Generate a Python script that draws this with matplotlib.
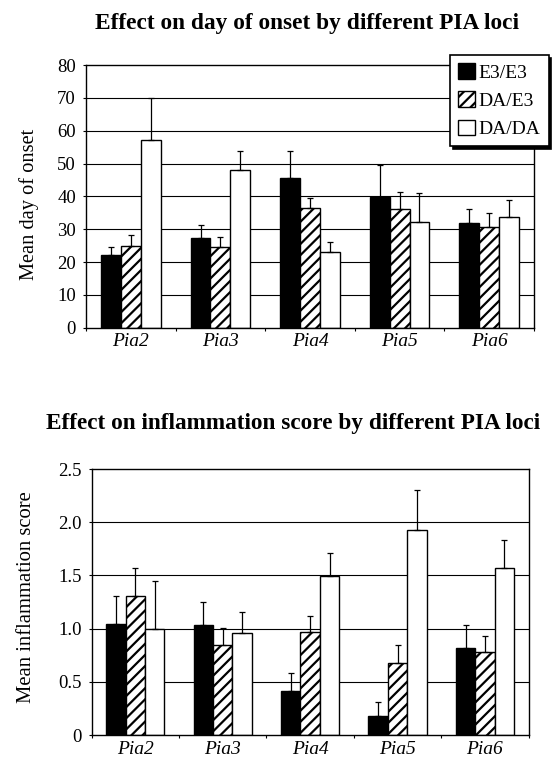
import numpy as np
import matplotlib
matplotlib.use("Agg")
import matplotlib.pyplot as plt
from matplotlib.ticker import FixedLocator

plt.rcParams['font.family'] = ['Liberation Serif', 'DejaVu Serif']
plt.rcParams['hatch.linewidth'] = 1.6
plt.rcParams['hatch.color'] = 'black'

# ---------------- data ----------------
loci = ['Pia2', 'Pia3', 'Pia4', 'Pia5', 'Pia6']
genotypes = ['E3/E3', 'DA/E3', 'DA/DA']

onset_e3e3 = [22.0, 27.3, 45.6, 39.8, 31.8]
onset_dae3 = [25.0, 24.6, 36.3, 36.2, 30.8]
onset_dada = [57.2, 47.9, 23.1, 32.2, 33.6]
onset_err_e3e3 = [2.6, 3.9, 8.3, 9.7, 4.4]
onset_err_dae3 = [3.2, 3.1, 3.1, 5.0, 4.2]
onset_err_dada = [12.8, 5.9, 2.9, 8.8, 5.4]
onset_yticks = [0, 10, 20, 30, 40, 50, 60, 70, 80]
onset_yticklabels = ['0', '10', '20', '30', '40', '50', '60', '70', '80']

infl_e3e3 = [1.045, 1.03, 0.41, 0.18, 0.82]
infl_dae3 = [1.31, 0.845, 0.97, 0.68, 0.78]
infl_dada = [1.0, 0.96, 1.49, 1.93, 1.57]
infl_err_e3e3 = [0.265, 0.22, 0.17, 0.13, 0.21]
infl_err_dae3 = [0.26, 0.165, 0.15, 0.165, 0.15]
infl_err_dada = [0.45, 0.20, 0.22, 0.37, 0.26]
infl_yticks = [0, 0.5, 1.0, 1.5, 2.0, 2.5]
infl_yticklabels = ['0', '0.5', '1.0', '1.5', '2.0', '2.5']

title_top = 'Effect on day of onset by different PIA loci'
title_bottom = 'Effect on inflammation score by different PIA loci'
ylabel_top = 'Mean day of onset'
ylabel_bottom = 'Mean inflammation score'

# ---------------- figure ----------------
W, H = 560, 767
fig = plt.figure(figsize=(W / 100, H / 100), dpi=100)

def px_rect(l, t, r, b):
    return [l / W, 1 - b / H, (r - l) / W, (b - t) / H]

ax1 = fig.add_axes(px_rect(86, 65, 534, 327.7))
ax2 = fig.add_axes(px_rect(91.7, 469, 528.6, 735))

styles = [dict(facecolor='black', edgecolor='black', hatch=None),
          dict(facecolor='white', edgecolor='black', hatch='///'),
          dict(facecolor='white', edgecolor='black', hatch=None)]

bw = 0.222

def draw(ax, series, errs, yticks, yticklabels, ymax, gridvals, xpad):
    x = np.arange(len(loci))
    handles = []
    for i, (vals, err, st) in enumerate(zip(series, errs, styles)):
        xs = x + (i - 1) * bw
        b = ax.bar(xs, vals, width=bw, linewidth=1.0, zorder=3,
                   label=genotypes[i], **st)
        handles.append(b)
        ax.errorbar(xs, vals, yerr=[np.zeros(len(vals)), err], fmt='none',
                    ecolor='black', elinewidth=0.9, capsize=2, capthick=0.9,
                    zorder=4)
    for g in gridvals:
        ax.axhline(g, color='black', linewidth=0.8, zorder=1)
    ax.set_xlim(-0.5, len(loci) - 0.5)
    ax.set_ylim(0, ymax)
    ax.set_xticks(x)
    ax.set_xticklabels(loci, fontsize=14, fontstyle='italic')
    ax.xaxis.set_minor_locator(FixedLocator(np.arange(-0.5, len(loci), 1.0)))
    ax.tick_params(axis='x', which='major', length=0, pad=xpad)
    ax.tick_params(axis='x', which='minor', length=2.5, width=0.8, direction='out')
    ax.set_yticks(yticks)
    ax.set_yticklabels(yticklabels, fontsize=13.5)
    ax.tick_params(axis='y', length=2.2, width=0.8, pad=5)
    for s in ax.spines.values():
        s.set_linewidth(1.0)
        s.set_color('black')
        s.set_zorder(5)
    return handles

h = draw(ax1, [onset_e3e3, onset_dae3, onset_dada],
         [onset_err_e3e3, onset_err_dae3, onset_err_dada],
         onset_yticks, onset_yticklabels, 80, [10, 20, 30, 40, 50, 60, 70], 3.8)
draw(ax2, [infl_e3e3, infl_dae3, infl_dada],
     [infl_err_e3e3, infl_err_dae3, infl_err_dada],
     infl_yticks, infl_yticklabels, 2.5, [0.5, 1.0, 1.5, 2.0], 4.5)

leg = fig.legend(handles=h, labels=genotypes, loc='upper left',
                 bbox_to_anchor=(450 / W, 1 - 55 / H), bbox_transform=fig.transFigure,
                 fontsize=14, frameon=True, fancybox=False,
                 shadow={'color': 'black', 'alpha': 1.0},
                 handlelength=0.85, handleheight=0.85, handletextpad=0.2,
                 labelspacing=0.5, borderpad=0.42, borderaxespad=0)
leg.get_frame().set_edgecolor('black')
leg.get_frame().set_linewidth(1.2)
leg.set_zorder(10)

# titles and y labels
fig.canvas.draw()
renderer = fig.canvas.get_renderer()

def fitted_text(xc, yc, s, target, rotation=0, **kw):
    t = fig.text(xc / W, 1 - yc / H, s, ha='center', va='center',
                 rotation=rotation, **kw)
    fs = t.get_fontsize()
    bb = t.get_window_extent(renderer)
    cur = bb.height if rotation else bb.width
    t.set_fontsize(fs * target / cur)
    return t

fitted_text(307, 23, title_top, 425, fontsize=15, fontweight='bold')
fitted_text(293.5, 424, title_bottom, 497, fontsize=15, fontweight='bold')
fitted_text(28.6, 204, ylabel_top, 152, rotation=90, fontsize=15)
fitted_text(26.8, 597, ylabel_bottom, 213, rotation=90, fontsize=15)

fig.savefig('out.png', dpi=100)
